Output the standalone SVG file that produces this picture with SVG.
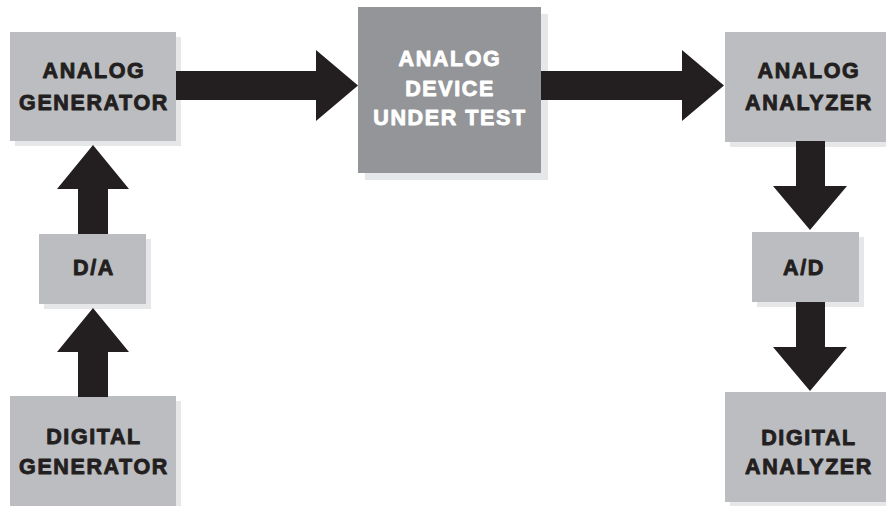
<svg xmlns="http://www.w3.org/2000/svg" width="886" height="506" viewBox="0 0 886 506">
<style>
.shadow{fill:#e6e7e8}
.box{fill:#bcbdc0}
.dut{fill:#939598}
.t{font-family:"Liberation Sans",Arial,sans-serif;font-weight:bold;font-size:21.5px;letter-spacing:1.6px;fill:#231f20;stroke:#231f20;stroke-width:0.9;stroke-linejoin:round;text-anchor:middle}
.w{fill:#ffffff;stroke:#ffffff}
.arrow{fill:#231f20}
</style>
<rect width="886" height="506" fill="#ffffff"/>
<g id="analog-generator">
<rect class="shadow" x="15" y="37" width="166" height="109"/>
<rect class="box" x="10" y="32" width="166" height="109"/>
<text class="t" x="94" y="78">ANALOG</text>
<text class="t" x="94" y="110">GENERATOR</text>
</g>
<g id="dut">
<rect class="shadow" x="365" y="14" width="183" height="166"/>
<rect class="dut" x="358" y="7" width="183" height="166"/>
<text class="t w" x="450" y="66">ANALOG</text>
<text class="t w" x="450" y="95.5">DEVICE</text>
<text class="t w" x="450" y="125">UNDER TEST</text>
</g>
<g id="analog-analyzer">
<rect class="shadow" x="730" y="37" width="166" height="110"/>
<rect class="box" x="725" y="32" width="166" height="110"/>
<text class="t" x="809" y="78">ANALOG</text>
<text class="t" x="809" y="110">ANALYZER</text>
</g>
<g id="da">
<rect class="shadow" x="44" y="239" width="107" height="70"/>
<rect class="box" x="39" y="234" width="107" height="70"/>
<text class="t" x="94" y="275">D/A</text>
</g>
<g id="ad">
<rect class="shadow" x="757" y="237" width="107" height="70"/>
<rect class="box" x="752" y="232" width="107" height="70"/>
<text class="t" x="804" y="275">A/D</text>
</g>
<g id="digital-generator">
<rect class="shadow" x="15" y="401" width="166" height="115"/>
<rect class="box" x="10" y="396" width="166" height="115"/>
<text class="t" x="94" y="444">DIGITAL</text>
<text class="t" x="94" y="474">GENERATOR</text>
</g>
<g id="digital-analyzer">
<rect class="shadow" x="730" y="397" width="166" height="110"/>
<rect class="box" x="725" y="392" width="166" height="110"/>
<text class="t" x="809" y="445">DIGITAL</text>
<text class="t" x="809" y="474">ANALYZER</text>
</g>
<g id="connectors">
<polygon class="arrow" points="176,71 316,71 316,50 358,85.5 316,121 316,100 176,100"/>
<polygon class="arrow" points="541,71 682,71 682,50 724,85.5 682,121 682,100 541,100"/>
<polygon class="arrow" points="796,141 825,141 825,186 847,186 810,230 773,186 796,186"/>
<polygon class="arrow" points="796,302 825,302 825,347 847,347 810,391 773,347 796,347"/>
<polygon class="arrow" points="78,234 108,234 108,189 129,189 93,145 57,189 78,189"/>
<polygon class="arrow" points="78,397 108,397 108,352 129,352 93,308 57,352 78,352"/>
</g>
</svg>
